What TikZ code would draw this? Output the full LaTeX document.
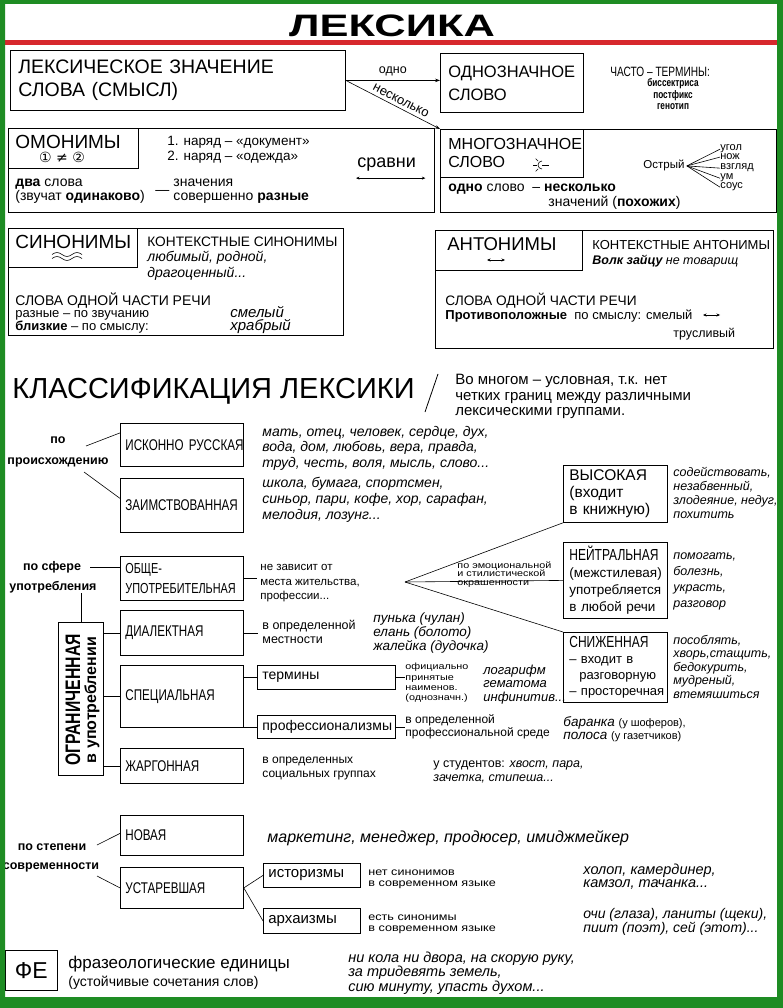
\documentclass[tikz,border=0pt]{standalone}
\usepackage{fontspec}
\setmainfont{Liberation Sans}
\newfontfamily\cnd[FakeStretch=0.75]{Liberation Sans}
\newfontfamily\wid[FakeStretch=1.2]{Liberation Sans}
\newfontfamily\ttl[FakeStretch=1.4]{Liberation Sans}
\newfontfamily\sym{DejaVu Sans}
\usetikzlibrary{arrows.meta}
\definecolor{frame}{RGB}{30,140,35}
\definecolor{rule}{RGB}{215,40,45}
\newcommand\fsz[2]{\fontsize{#1}{#2}\selectfont}
\tikzset{%
    box/.style={draw, anchor=north west, inner xsep=5pt, inner ysep=0pt, align=left},
    txt/.style={inner sep=0pt, anchor=base west, align=left},
    cat/.style={box, text width=113pt, font=\cnd\fsz{15.5}{20}},
    sub/.style={box, text width=128pt, font=\fsz{14}{16}},
    thin/.style={line width=0.6pt},
    arr/.style={-{Stealth[length=5pt,width=3.5pt]}, line width=0.6pt},
    dbl/.style={{Stealth[length=3.5pt,width=3pt]}-{Stealth[length=3.5pt,width=3pt]}, line width=0.6pt}
}

\begin{document}
\begin{tikzpicture}[x=1pt,y=-1pt,line width=0.8pt]
	\useasboundingbox (0,0) rectangle (783,1008);
	\fill[white] (0,0) rectangle (783,1008);
	% title
	\node[font=\ttl\bfseries\fsz{31}{34}, inner sep=0] (title) at (392,26) {ЛЕКСИКА};
	\fill[rule] (5,40) rectangle (777,45);
	% lexical meaning
	\node[box, text width=319pt, inner xsep=8pt, minimum height=60pt, font=\fsz{19.5}{23}] (lex) at (10,50) {ЛЕКСИЧЕСКОЕ ЗНАЧЕНИЕ\\СЛОВА (СМЫСЛ)};
	\node[box, text width=127pt, inner xsep=8pt, minimum height=59pt, font=\fsz{16.5}{23}] (odn) at (440,53) {ОДНОЗНАЧНОЕ\\СЛОВО};
	\node[txt, font=\cnd\fsz{13.5}{15}] (chasto) at (610,76.7) {ЧАСТО – ТЕРМИНЫ:};
	\node[font=\cnd\bfseries\fsz{11}{11.5}, align=center, inner sep=0, anchor=base] (term) at (673,110) {биссектриса\\постфикс\\генотип};
	\node[box, minimum width=336pt, minimum height=83pt, inner sep=0pt] (mnogo) at (440,129) {};
	\node[box, text width=127pt, inner xsep=8pt, minimum height=48pt, font=\fsz{16}{18}] (mnog) at (440,129) {МНОГОЗНАЧНОЕ\\СЛОВО};
	\draw[arr] (lex.east) -- (lex.east -| odn.west) node[midway, above=1pt, font=\fsz{12.5}{14}] (odno) {одно};
	\draw[arr] (lex.east) -- (mnog.north west) node[pos=0.55, above=0pt, sloped, font=\fsz{13}{14}] (nesk) {несколько};
	% sun sign
	\coordinate (sun) at (542,165);
	\draw[thin] (sun) ++(0,-4) arc[start angle=270, end angle=90, radius=4];
	\draw[thin] (sun) -- ++(7,0);
	\foreach \a in {135,180,225}
		\draw[thin] (sun) ++(\a:5.5) -- ++(\a:3.5);
	\node[txt, font=\fsz{14}{16}] (odnosl) at (448,192) {\textbf{одно} слово \ – \textbf{несколько}};
	\node[txt, font=\fsz{14}{16}] (znach) at (548,207) {значений (\textbf{похожих})};
	\node[txt, font=\fsz{11.5}{13}] (ostr) at (643,169) {Острый};
	\foreach \n/\w/\y in {ugol/угол/151, nozh/нож/160, vzgl/взгляд/170, um/ум/180, sous/соус/189}{
		\node[txt, font=\fsz{11}{12}] (\n) at (720,\y) {\w};
		\draw[thin] ([xshift=2pt]ostr.east) -- (\n.west);
	}
	% compare
	\node[txt, font=\fsz{18}{20}] (sravni) at (357,168) {сравни};
	\draw[dbl] ([xshift=-1pt,yshift=-6pt]sravni.south west) -- ([xshift=9pt,yshift=-6pt]sravni.south east);
	% homonyms
	\node[box, minimum width=426pt, minimum height=84pt, inner sep=0pt] (omonim) at (8,128) {};
	\node[box, minimum width=130pt, minimum height=40pt, inner sep=0pt] (omhead) at (8,128) {};
	\node[txt, font=\fsz{19}{21}] (omtit) at (15,149) {ОМОНИМЫ};
	\node[font=\sym\fsz{14}{14}, inner sep=0] (omsym) at (62,157) {① ≠ ②};
	\node[txt, font=\fsz{13.5}{14.5}] (naryad) at (167,160.5) {1. наряд – «документ»\\2. наряд – «одежда»};
	\node[txt, font=\fsz{14}{14}] (dva) at (15,201) {\textbf{два} слова\\(звучат \textbf{одинаково})};
	\node[txt, font=\fsz{14}{14}] (tire) at (155,195) {—};
	\node[txt, font=\fsz{14}{14}] (znraz) at (173,201) {значения\\совершенно \textbf{разные}};
	% synonyms
	\node[box, minimum width=335pt, minimum height=107pt, inner sep=0pt] (sinonim) at (8,228) {};
	\node[box, minimum width=129pt, minimum height=39pt, inner sep=0pt] (sinhead) at (8,228) {};
	\node[txt, font=\fsz{19}{21}] (sintit) at (15,248) {СИНОНИМЫ};
	\foreach \dy in {0,4}
		\draw[thin] (52,254.5+\dy) sin (57,252.5+\dy) cos (62,254.5+\dy) sin (67,256.5+\dy) cos (72,254.5+\dy) sin (77,252.5+\dy) cos (82,254.5+\dy);
	\node[txt, font=\fsz{13.7}{15.5}] (kontsin) at (147,246) {КОНТЕКСТНЫЕ СИНОНИМЫ};
	\node[txt, font=\itshape\fsz{14}{16}] (lyub) at (147,277) {любимый, родной,\\драгоценный...};
	\node[txt, font=\fsz{14}{14}] (slova1) at (15,305) {СЛОВА ОДНОЙ ЧАСТИ РЕЧИ};
	\node[txt, font=\fsz{13}{13}] (razn) at (15,330) {разные – по звучанию\\\textbf{близкие} – по смыслу:};
	\node[txt, font=\itshape\fsz{15}{13}] (smel) at (230,330.5) {смелый\\храбрый};
	% antonyms
	\node[box, minimum width=338pt, minimum height=118pt, inner sep=0pt] (antonim) at (435,230) {};
	\node[box, minimum width=147pt, minimum height=40pt, inner sep=0pt] (anthead) at (435,230) {};
	\node[txt, font=\fsz{18.5}{21}] (anttit) at (447,250.7) {АНТОНИМЫ};
	\draw[dbl] (487,260) -- (505,260);
	\node[txt, font=\fsz{13}{15}] (kontant) at (592,249.7) {КОНТЕКСТНЫЕ АНТОНИМЫ};
	\node[txt, font=\itshape\fsz{12.5}{15}] (volk) at (592,264) {\textbf{Волк зайцу} не товарищ};
	\node[txt, font=\fsz{13.7}{15}] (slova2) at (445,305) {СЛОВА ОДНОЙ ЧАСТИ РЕЧИ};
	\node[txt, font=\fsz{13}{15}] (protiv) at (445,319) {\textbf{Противоположные} \ по смыслу: смелый};
	\draw[dbl] (703,315) -- (720,315);
	\node[txt, font=\fsz{12.5}{15}] (trus) at (673,337) {трусливый};
	% classification
	\node[txt, font=\fsz{29}{32}] (klass) at (12,398) {КЛАССИФИКАЦИЯ ЛЕКСИКИ};
	\draw (425,412) -- (438,374);
	\node[txt, font=\fsz{15}{15.5}] (usl) at (455,415.5) {Во многом – условная, т.к. нет\\четких границ между различными\\лексическими группами.};
	% by origin
	\node[font=\bfseries\fsz{12.5}{14}, inner sep=0] (po1) at (58,440) {по};
	\node[font=\bfseries\fsz{12.5}{14}, inner sep=0] (proish) at (58,462) {происхождению};
	\node[cat, minimum height=43pt] (iskon) at (120,423) {ИСКОННО~РУССКАЯ};
	\node[cat, minimum height=54pt] (zaim) at (120,478) {ЗАИМСТВОВАННАЯ};
	\coordinate (pr1) at (86,446);
	\coordinate (pr2) at (84,472);
	\draw[thin] (pr1) -- ([yshift=12pt]iskon.west);
	\draw[thin] (pr2) -- ([yshift=7pt]zaim.west);
	\node[txt, font=\itshape\fsz{14}{15.5}] (iskw) at (262,467) {мать, отец, человек, сердце, дух,\\вода, дом, любовь, вера, правда,\\труд, честь, воля, мысль, слово...};
	\node[txt, font=\itshape\fsz{14}{16}] (zaimw) at (262,519) {школа, бумага, спортсмен,\\синьор, пари, кофе, хор, сарафан,\\мелодия, лозунг...};
	% by sphere of use
	\node[font=\bfseries\fsz{12.5}{14}, inner sep=0] (sfera) at (52,567) {по сфере};
	\node[font=\bfseries\fsz{12.5}{14}, inner sep=0] (upotr) at (53,587) {употребления};
	\node[cat, minimum height=44pt, font=\cnd\fsz{14.5}{20}] (obshe) at (120,556) {ОБЩЕ-\\УПОТРЕБИТЕЛЬНАЯ};
	\draw[thin] ([xshift=9pt]sfera.east) -- (sfera.east -| obshe.west);
	\node[txt, font=\fsz{11.5}{14.5}] (nezav) at (260,599.5) {не зависит от\\места жительства,\\профессии...};
	\draw[thin] (obshe.east) -- ([xshift=-3pt]obshe.east -| nezav.west);
	\node[box, minimum width=45pt, minimum height=153pt, inner sep=0pt] (ogran) at (58,622) {};
	\node[rotate=90, font=\cnd\bfseries\fsz{21}{21}, inner sep=0] (ogrt) at (73,700) {ОГРАНИЧЕННАЯ};
	\node[rotate=90, font=\bfseries\fsz{16}{16}, inner sep=0] (vupotr) at (92,700) {в употреблении};
	\draw[thin] (ogran.north |- upotr.south) -- (ogran.north);
	\node[cat, minimum height=45pt] (dial) at (120,610) {ДИАЛЕКТНАЯ};
	\node[cat, minimum height=62pt] (spec) at (120,665) {СПЕЦИАЛЬНАЯ};
	\node[cat, minimum height=35pt] (zharg) at (120,748) {ЖАРГОННАЯ};
	\draw[thin] (ogran.east |- dial.west) -- (dial.west);
	\draw[thin] (ogran.east |- spec.west) -- (spec.west);
	\draw[thin] (ogran.east |- zharg.west) -- (zharg.west);
	\node[txt, font=\fsz{12.5}{14}] (vopr1) at (262,643.7) {в определенной\\местности};
	\draw[thin] (dial.east) -- ([xshift=-4pt]dial.east -| vopr1.west);
	\node[txt, font=\itshape\fsz{13.5}{12.5}] (punka) at (373,650) {пунька (чулан)\\елань (болото)\\жалейка (дудочка)};
	\node[sub, minimum height=24pt] (termin) at (257,665) {термины};
	\node[sub, minimum height=23pt] (prof) at (257,715) {профессионализмы};
	\draw[thin] (spec.east |- termin.west) -- (termin.west);
	\draw[thin] (spec.east |- prof.west) -- (prof.west);
	\node[txt, font=\wid\fsz{9}{10.4}] (ofic) at (405,700.9) {официально\\принятые\\наименов.\\(однозначн.)};
	\draw[thin] (termin.east) -- (termin.east -| ofic.west);
	\node[txt, font=\itshape\fsz{13}{13.5}] (logar) at (483,701) {логарифм\\гематома\\инфинитив...};
	\node[txt, font=\fsz{12}{13}] (vopr2) at (405,736.6) {в определенной\\профессиональной среде};
	\draw[thin] (prof.east) -- (prof.east -| vopr2.west);
	\node[txt, font=\fsz{13.5}{13}] (baranka) at (563,739) {\textit{баранка} {\fsz{11}{13}(у шоферов),}\\\textit{полоса} {\fsz{11}{13}(у газетчиков)}};
	\node[txt, font=\fsz{12}{14}] (vopr3) at (262,777.6) {в определенных\\социальных группах};
	\node[txt, font=\fsz{12.5}{14}] (stud) at (433,781) {у студентов: \textit{хвост, пара,}\\\textit{зачетка, стипеша...}};
	% by emotional colouring
	\coordinate (emo) at (405,582);
	\node[box, text width=92pt, inner xsep=6pt, minimum height=57pt, font=\fsz{15.5}{17}] (vys) at (563,465) {ВЫСОКАЯ\\(входит\\\mbox{в книжную)}};
	\node[box, text width=92pt, inner xsep=6pt, minimum height=76pt, font=\fsz{13.5}{17}] (neit) at (563,542) {{\cnd\fsz{16}{17}НЕЙТРАЛЬНАЯ}\\(межстилевая)\\употребляется\\\mbox{в любой речи}};
	\node[box, text width=92pt, inner xsep=6pt, minimum height=70pt, font=\fsz{13}{16}] (sniz) at (563,632) {{\cnd\fsz{16}{16}СНИЖЕННАЯ}\\\mbox{– входит в}\\\hspace*{10pt}разговорную\\\mbox{– просторечная}};
	\draw[thin] (emo) -- (vys.south west);
	\draw[thin] (emo) -- (neit.west);
	\draw[thin] (emo) -- (sniz.north west);
	\node[txt, font=\wid\fsz{9}{8.7}] (emot) at (457,585.4) {по эмоциональной\\и стилистической\\окрашенности};
	\node[txt, font=\itshape\fsz{12.5}{14}] (vysw) at (673,518) {содействовать,\\незабвенный,\\злодеяние, недуг,\\похитить};
	\node[txt, font=\itshape\fsz{12.5}{16}] (neitw) at (673,607) {помогать,\\болезнь,\\украсть,\\разговор};
	\node[txt, font=\itshape\fsz{12.5}{13.5}] (snizw) at (673,698) {пособлять,\\хворь,стащить,\\бедокурить,\\мудреный,\\втемяшиться};
	% by modernity
	\node[font=\bfseries\fsz{12.5}{14}, inner sep=0] (stepen) at (52,847) {по степени};
	\node[font=\bfseries\fsz{12.5}{14}, inner sep=0] (sovr) at (51,867) {современности};
	\node[cat, minimum height=40pt] (novaya) at (120,815) {НОВАЯ};
	\node[cat, minimum height=41pt] (ustar) at (120,867) {УСТАРЕВШАЯ};
	\coordinate (st1) at (97,845);
	\coordinate (st2) at (97,876);
	\draw[thin] (st1) -- ([yshift=2pt]novaya.west);
	\draw[thin] (st2) -- (ustar.west);
	\node[txt, font=\itshape\fsz{16}{18}] (mark) at (267,842) {маркетинг, менеджер, продюсер, имиджмейкер};
	\node[box, text width=87pt, minimum height=24pt, font=\fsz{15}{17}] (istor) at (263,863) {историзмы};
	\node[box, text width=87pt, minimum height=25pt, font=\fsz{15}{17}] (arh) at (263,908) {архаизмы};
	\draw[thin] (ustar.east) -- (istor.west);
	\draw[thin] (ustar.east) -- (arh.west);
	\node[txt, font=\wid\fsz{10.5}{11}] (netsin) at (368,886) {нет синонимов\\в современном языке};
	\node[txt, font=\wid\fsz{10.5}{11}] (estsin) at (368,931) {есть синонимы\\в современном языке};
	\node[txt, font=\itshape\fsz{14.5}{13}] (holop) at (583,887.5) {холоп, камердинер,\\камзол, тачанка...};
	\node[txt, font=\itshape\fsz{14}{13}] (ochi) at (583,932.5) {очи (глаза), ланиты (щеки),\\пиит (поэт), сей (этот)...};
	% phraseology
	\node[box, minimum width=52pt, minimum height=40pt, inner sep=0pt, font=\fsz{23}{25}] (fe) at (5,950) {ФЕ};
	\node[txt, font=\fsz{17}{19}] (frazeo) at (68,968) {фразеологические единицы};
	\node[txt, font=\fsz{14}{16}] (ustoi) at (68,986) {(устойчивые сочетания слов)};
	\node[txt, font=\itshape\fsz{14.5}{12}] (nikola) at (348,991.5) {ни кола ни двора, на скорую руку,\\за тридевять земель,\\сию минуту, упасть духом...};
	% frame
	\fill[frame, even odd rule] (0,0) rectangle (783,1008) (5,4) rectangle (777,997);
\end{tikzpicture}
\end{document}
